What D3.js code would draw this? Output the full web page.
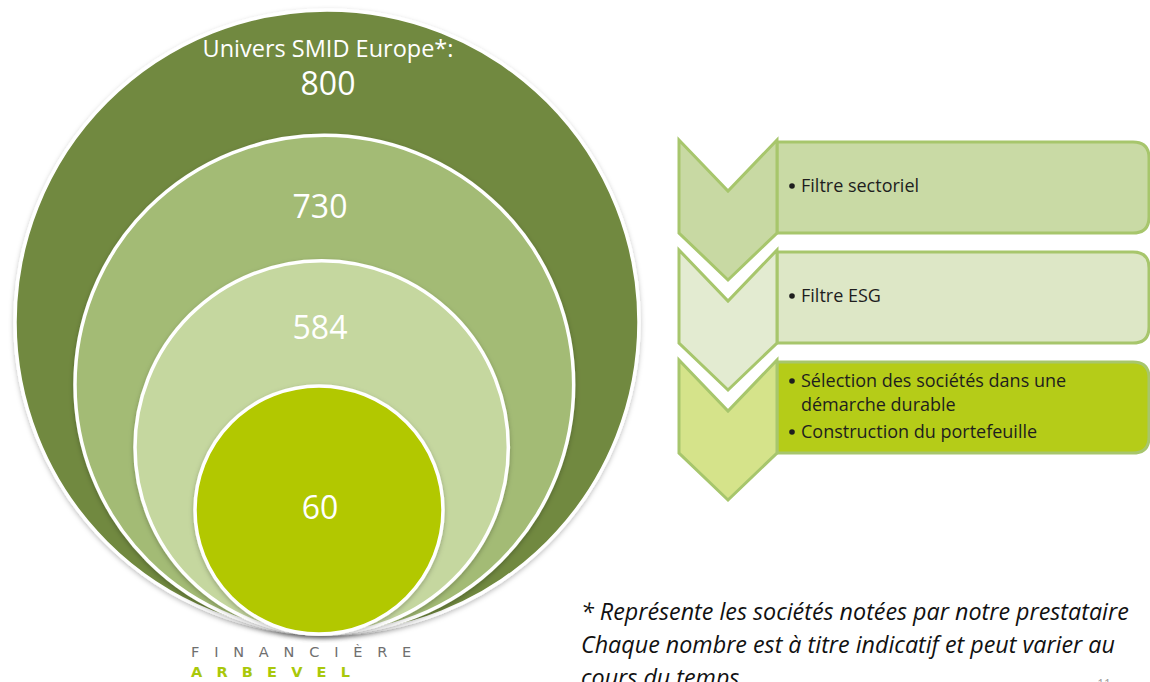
<!DOCTYPE html>
<html>
<head>
<meta charset="utf-8">
<script src="https://cdn.jsdelivr.net/npm/d3@7"></script>
<style>
  html, body { margin: 0; padding: 0; background: #ffffff; overflow: hidden; }
  svg { display: block; }
</style>
</head>
<body>
<svg id="chart" width="1150" height="682"></svg>
<script>
// ---- data ----
const circleValues = [800, 730, 584, 60];
const circleTitles = ["Univers SMID Europe*:", "", "", ""];
const circleColors = ["#71893f", "#a3bb75", "#c5d79f", "#b2c800"];

const stepItems = [
  ["Filtre sectoriel"],
  ["Filtre ESG"],
  ["Sélection des sociétés dans une|démarche durable", "Construction du portefeuille"]
];
const stepRectColors = ["#c9daa5", "#dde7c6", "#b5cc18"];
const stepChevColors = ["#c8d9a3", "#e3ebd1", "#d5e38a"];

const footnoteLines = [
  "* Représente les sociétés notées par notre prestataire",
  "Chaque nombre est à titre indicatif et peut varier au",
  "cours du temps"
];
const logoLines = ["FINANCIÈRE", "ARBEVEL"];
const pageNumber = "11";

// ---- drawing ----
const svg = d3.select("#chart");
const font = "'Open Sans', 'Noto Sans', sans-serif";

const defs = svg.append("defs");
const f = defs.append("filter").attr("id", "shadow")
  .attr("x", "-10%").attr("y", "-10%").attr("width", "120%").attr("height", "125%");
f.append("feDropShadow").attr("dx", 0).attr("dy", 2).attr("stdDeviation", 2.5)
  .attr("flood-color", "#000").attr("flood-opacity", 0.25);

const idx = d3.range(circleValues.length);
const rScale = d3.scaleLinear().domain([0, circleValues.length - 1]).range([312, 124]);
const cxScale = d3.scaleLinear().domain([0, circleValues.length - 1]).range([327, 319]);
const bottomY = 634;

const circles = svg.append("g");
circles.selectAll("circle").data(idx).join("circle")
  .attr("cx", i => cxScale(i))
  .attr("cy", i => bottomY - rScale(i))
  .attr("r", i => rScale(i))
  .attr("fill", i => circleColors[i])
  .attr("stroke", "#ffffff")
  .attr("stroke-width", 3.5)
  .attr("filter", "url(#shadow)");

// labels
const labelY = [84, 207, 328, 508];
circles.selectAll("text.val").data(idx).join("text")
  .attr("class", "val")
  .attr("x", i => i === 0 ? 328 : 320)
  .attr("y", (i) => labelY[i] + 11)
  .attr("text-anchor", "middle")
  .attr("fill", "#ffffff")
  .attr("font-family", font)
  .attr("font-size", 32)
  .text(i => circleValues[i]);
circles.append("text")
  .attr("x", 328).attr("y", 57)
  .attr("text-anchor", "middle")
  .attr("fill", "#ffffff")
  .attr("font-family", font)
  .attr("font-size", 23.5)
  .text(circleTitles[0]);

// steps
const stepY = d3.scaleLinear().domain([0, 2]).range([140, 360]);
const chevL = 679, chevR = 777, chevMid = 728, notch = 51, bodyH = 93, tip = 140;
const steps = svg.append("g");
stepItems.forEach((items, i) => {
  const y0 = stepY(i);
  const rx = 16, x0 = chevR, x1 = 1149, yt = y0 + 2, yb = y0 + bodyH;
  steps.append("path")
    .attr("d", `M${x0},${yt} H${x1 - rx} Q${x1},${yt} ${x1},${yt + rx} V${yb - rx} Q${x1},${yb} ${x1 - rx},${yb} H${x0} Z`)
    .attr("fill", stepRectColors[i])
    .attr("stroke", "#a7c66c").attr("stroke-width", 3);
  steps.append("path")
    .attr("d", `M${chevL},${y0} L${chevMid},${y0 + notch} L${chevR},${y0} L${chevR},${y0 + bodyH} L${chevMid},${y0 + tip} L${chevL},${y0 + bodyH} Z`)
    .attr("fill", stepChevColors[i])
    .attr("stroke", "#a7c66c").attr("stroke-width", 3).attr("stroke-linejoin", "miter");
  const lines = [];
  items.forEach(it => it.split("|").forEach((t, k) => lines.push({ t, bullet: k === 0 })));
  const lh = 23.5;
  const startY = lines.length === 1 ? y0 + 52 : y0 + 27;
  lines.forEach((ln, k) => {
    const yy = startY + k * lh + (k >= 2 ? 4 : 0);
    if (ln.bullet) {
      steps.append("circle").attr("cx", 792).attr("cy", yy - 6).attr("r", 2.8).attr("fill", "#1e1e1e");
    }
    steps.append("text").attr("x", 801).attr("y", yy)
      .attr("font-family", font).attr("font-size", 18).attr("font-weight", 500)
      .attr("fill", "#1e1e1e").text(ln.t);
  });
});

// footnote
svg.append("g").selectAll("text").data(footnoteLines).join("text")
  .attr("x", 581).attr("y", (d, i) => 620 + i * 33)
  .attr("font-family", font).attr("font-size", 23.3).attr("font-style", "italic")
  .attr("fill", "#111").text(d => d);

svg.append("text").attr("x", 1104).attr("y", 688).attr("text-anchor", "middle")
  .attr("font-family", font).attr("font-size", 12).attr("fill", "#9a9a9a").text(pageNumber);

// logo
svg.append("text").attr("x", 191).attr("y", 657)
  .attr("font-family", "'DejaVu Sans', sans-serif").attr("font-size", 14.5)
  .attr("letter-spacing", 14.8).attr("fill", "#6f6f6f").text(logoLines[0]);
svg.append("text").attr("x", 191).attr("y", 677)
  .attr("font-family", "'DejaVu Sans', sans-serif").attr("font-size", 14.5).attr("font-weight", "bold")
  .attr("letter-spacing", 14.2).attr("fill", "#a9c80a").text(logoLines[1]);
</script>
</body>
</html>
